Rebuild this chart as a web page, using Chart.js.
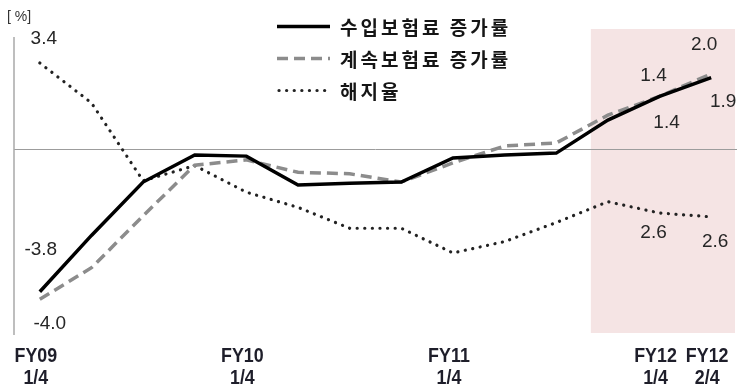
<!DOCTYPE html>
<html lang="ko">
<head>
<meta charset="utf-8">
<title>수입보험료 증가률 · 계속보험료 증가률 · 해지율</title>
<script src="https://cdn.jsdelivr.net/npm/chart.js@4"></script>
<style>
  html, body { margin: 0; padding: 0; background: #fff; }
  #wrap { position: relative; width: 737px; height: 390px; }
</style>
</head>
<body>
<div id="wrap"><canvas id="grafico"></canvas></div>
<script>
// quarters FY09 1/4 .. FY12 2/4
const categories = [
  "FY09 1/4", "FY09 2/4", "FY09 3/4", "FY09 4/4",
  "FY10 1/4", "FY10 2/4", "FY10 3/4", "FY10 4/4",
  "FY11 1/4", "FY11 2/4", "FY11 3/4", "FY11 4/4",
  "FY12 1/4", "FY12 2/4"
];
const tickLabels = [
  ["FY09", "1/4"], "", "", "",
  ["FY10", "1/4"], "", "", "",
  ["FY11", "1/4"], "", "", "",
  ["FY12", "1/4"], ["FY12", "2/4"]
];

// 수입보험료 증가률 (%)
const premiumIncome = [-3.8, -2.3, -0.88, -0.16, -0.19, -0.96, -0.91, -0.88, -0.24, -0.16, -0.11, 0.77, 1.4, 1.9];
// 계속보험료 증가률 (%)
const renewalPremium = [-4.0, -3.16, -1.78, -0.43, -0.29, -0.62, -0.66, -0.88, -0.37, 0.08, 0.16, 0.9, 1.4, 2.0];
// 해지율 (%), drawn on its own hidden scale
const lapseRate = [3.4, 3.19, 2.78, 2.86, 2.72, 2.64, 2.53, 2.53, 2.4, 2.46, 2.56, 2.67, 2.61, 2.59];

const seriesNames = ["수입보험료 증가률", "계속보험료 증가률", "해지율"];

// which values get a number written next to them (series index, point index)
const labelled = [
  [2, 0], [0, 0], [1, 0],
  [1, 12], [1, 13], [0, 13], [0, 12],
  [2, 12], [2, 13]
];
// offsets of those numbers from their point (styling)
const labelOffsets = [
  [4, -24], [1, -42], [10, 24],
  [-6, -21], [-7, -29], [12, 24], [7, 26],
  [-6, 20], [4, 25]
];

const NUM_FONT = '"Liberation Sans", Arial, sans-serif';
const KR_FONT = '"Noto Sans CJK KR", "Noto Sans", sans-serif';

// pink box behind the latest quarters, zero line and left axis line
const background = {
  id: "background",
  beforeDatasetsDraw(chart) {
    const { ctx, chartArea: a, scales } = chart;
    const x = scales.x;
    const step = x.getPixelForValue(11) - x.getPixelForValue(10);
    const left = x.getPixelForValue(11) - step * 0.33;
    ctx.save();
    ctx.fillStyle = "#f5e4e4";
    ctx.fillRect(left, a.top - 8, a.right - 2 - left, a.bottom - 2 - (a.top - 8));

    const y0 = Math.round(scales.y.getPixelForValue(0)) + 0.5;
    ctx.strokeStyle = "#9c9c9c";
    ctx.lineWidth = 1;
    ctx.beginPath();
    ctx.moveTo(a.left, y0);
    ctx.lineTo(a.right, y0);
    ctx.stroke();

    ctx.strokeStyle = "#a8a8a8";
    ctx.lineWidth = 1.5;
    ctx.beginPath();
    ctx.moveTo(a.left, a.top);
    ctx.lineTo(a.left, a.bottom);
    ctx.stroke();

    ctx.fillStyle = "#333";
    ctx.font = "14px " + NUM_FONT;
    ctx.textAlign = "left";
    ctx.textBaseline = "middle";
    ctx.fillText("[ %]", 7, 17);
    ctx.restore();
  }
};

// quarter labels under the plot, placed from the x scale, narrow look
const quarterLabels = {
  id: "quarterLabels",
  afterDraw(chart) {
    const { ctx, chartArea: a, scales } = chart;
    ctx.save();
    ctx.fillStyle = "#1e1e2a";
    ctx.font = "bold 21px " + NUM_FONT;
    ctx.textAlign = "center";
    ctx.textBaseline = "middle";
    tickLabels.forEach((lines, i) => {
      if (!lines) return;
      const x = scales.x.getPixelForValue(i) - 4;
      lines.forEach((t, k) => {
        ctx.save();
        ctx.translate(x, a.bottom + 21 + k * 22);
        ctx.scale(0.85, 1);
        ctx.fillText(t, 0, 0);
        ctx.restore();
      });
    });
    ctx.restore();
  }
};

// legend drawn as three rows with the dataset line styles
const legendRows = {
  id: "legendRows",
  afterDraw(chart) {
    const { ctx } = chart;
    ctx.save();
    chart.data.datasets.forEach((ds, i) => {
      const y = 26.5 + i * 32;
      ctx.strokeStyle = ds.borderColor;
      ctx.lineWidth = ds.borderWidth;
      ctx.lineCap = ds.borderCapStyle || "butt";
      ctx.setLineDash(ds.borderDash || []);
      ctx.beginPath();
      ctx.moveTo(i === 2 ? 279 : 277, y);
      ctx.lineTo(330, y);
      ctx.stroke();
      ctx.setLineDash([]);
      ctx.fillStyle = "#151515";
      ctx.font = "bold 19px " + KR_FONT;
      ctx.letterSpacing = "3px";
      ctx.textAlign = "left";
      ctx.textBaseline = "middle";
      ctx.fillText(ds.label, 340, y + 1);
    });
    ctx.restore();
  }
};

// value labels next to chosen points
const valueLabels = {
  id: "valueLabels",
  afterDatasetsDraw(chart) {
    const { ctx } = chart;
    ctx.save();
    ctx.fillStyle = "#262626";
    ctx.font = "19px " + NUM_FONT;
    ctx.textAlign = "center";
    ctx.textBaseline = "middle";
    labelled.forEach(([s, p], k) => {
      const pt = chart.getDatasetMeta(s).data[p];
      const v = chart.data.datasets[s].data[p];
      ctx.fillText(v.toFixed(1), pt.x + labelOffsets[k][0], pt.y + labelOffsets[k][1]);
    });
    ctx.restore();
  }
};

new Chart(document.getElementById("grafico"), {
  type: "line",
  data: {
    labels: categories,
    datasets: [
      {
        label: seriesNames[0],
        data: premiumIncome,
        borderColor: "#000",
        borderWidth: 3.5,
        yAxisID: "y"
      },
      {
        label: seriesNames[1],
        data: renewalPremium,
        borderColor: "#8c8c8c",
        borderWidth: 3.5,
        borderDash: [11, 6],
        yAxisID: "y"
      },
      {
        label: seriesNames[2],
        data: lapseRate,
        borderColor: "#222",
        borderWidth: 3.2,
        borderDash: [0.1, 7.5],
        borderCapStyle: "round",
        yAxisID: "y2"
      }
    ]
  },
  options: {
    responsive: true,
    maintainAspectRatio: false,
    animation: false,
    layout: { padding: { top: 37, left: 14, right: 0, bottom: 55 } },
    elements: {
      point: { radius: 0 },
      line: { tension: 0, fill: false }
    },
    plugins: {
      legend: { display: false },
      tooltip: { enabled: false }
    },
    scales: {
      x: { display: false, offset: true },
      y: { display: false, min: -4.95, max: 2.98 },
      y2: { display: false, min: 1.968, max: 3.537 }
    }
  },
  plugins: [background, valueLabels, legendRows, quarterLabels]
});
</script>
</body>
</html>
